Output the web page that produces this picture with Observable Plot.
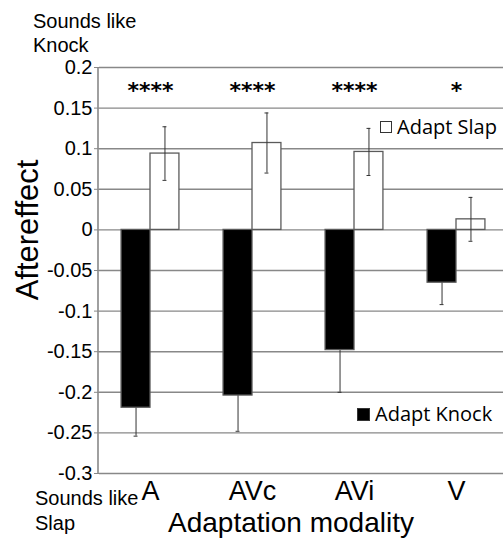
<!DOCTYPE html>
<html><head><meta charset="utf-8">
<script src="https://cdn.jsdelivr.net/npm/d3@7"></script>
<script src="https://cdn.jsdelivr.net/npm/@observablehq/plot@0.6"></script>
<style>
html,body{margin:0;padding:0;background:#fff;overflow:hidden}
#wrap{position:relative;width:503px;height:539px;overflow:hidden;font-family:"Liberation Sans",Arial,sans-serif;color:#000}
#wrap svg{position:absolute;left:0;top:0}
.lbl{position:absolute;white-space:nowrap;line-height:1}
.leg{position:absolute;white-space:nowrap;line-height:1;font-family:"Open Sans",sans-serif;font-size:20px;display:flex;align-items:center}
.sq{display:inline-block;width:10px;height:10px;margin-right:5px;border:1px solid #333;box-sizing:content-box}
</style></head><body><div id="wrap"></div>
<script>
// ---- data ----
const categories = ["A", "AVc", "AVi", "V"];
const series = ["Adapt Knock", "Adapt Slap"];
const knockValues = [-0.219, -0.204, -0.148, -0.065];
const knockErrors = [0.035, 0.044, 0.052, 0.027];
const slapValues = [0.094, 0.107, 0.096, 0.013];
const slapErrors = [0.033, 0.037, 0.029, 0.027];
const starLabels = ["****", "****", "****", "*"];
const yTicks = [-0.3, -0.25, -0.2, -0.15, -0.1, -0.05, 0, 0.05, 0.1, 0.15, 0.2];

const rows = categories.flatMap((c, i) => [
  {cat: c, series: series[0], value: knockValues[i], err: knockErrors[i]},
  {cat: c, series: series[1], value: slapValues[i], err: slapErrors[i]}
]);
const knockRows = rows.filter(d => d.series === series[0]);
const slapRows = rows.filter(d => d.series === series[1]);
const fmt = d => String(Math.round(d * 100) / 100);

function errorMarks(data) {
  const base = {fx: "cat", x: "series", stroke: "#333", strokeWidth: 1};
  return [
    Plot.ruleX(data, {...base, y1: d => d.value - d.err, y2: d => d.value + d.err}),
    Plot.tickY(data, {...base, y: d => d.value - d.err, insetLeft: 12.5, insetRight: 12.5}),
    Plot.tickY(data, {...base, y: d => d.value + d.err, insetLeft: 12.5, insetRight: 12.5})
  ];
}

const chart = Plot.plot({
  width: 507, height: 539,
  marginLeft: 98, marginRight: 0, marginTop: 67, marginBottom: 66,
  style: {fontFamily: "'Liberation Sans', Arial, sans-serif", background: "transparent", maxWidth: "none", color: "#000"},
  fx: {domain: categories, padding: 0, label: null, axis: null},
  x: {domain: series, paddingInner: 0, paddingOuter: 0.763, axis: null, round: false},
  y: {domain: [yTicks[0], yTicks[yTicks.length - 1]], label: null, axis: null},
  color: {domain: series, range: ["#000000", "#ffffff"]},
  marks: [
    Plot.gridY(yTicks, {stroke: "#888", strokeOpacity: 1, strokeWidth: 1.4}),
    ...errorMarks(knockRows),
    Plot.barY(rows, {fx: "cat", x: "series", y: "value", fill: "series", stroke: "#5a5a5a", strokeWidth: 1.3}),
    ...errorMarks(slapRows),
    Plot.axisY(yTicks, {anchor: "left", tickSize: 5, tickPadding: 2, fontSize: 20, tickFormat: fmt, stroke: "#888", label: null}),
    Plot.axisFx({anchor: "bottom", tickSize: 0, tickPadding: 7, fontSize: 27, label: null}),
    Plot.text(categories, {fx: d => d, text: (d, i) => starLabels[i], frameAnchor: "top", dy: 23, fontSize: 22, fontFamily: "DejaVu Sans", fontWeight: "bold", lineAnchor: "middle"})
  ]
});

const wrap = document.getElementById("wrap");
wrap.appendChild(chart);

// left axis line drawn from the library's own scales
const fxr = chart.scale("fx").range, yr = chart.scale("y").range;
d3.select(chart).append("line")
  .attr("x1", fxr[0]).attr("x2", fxr[0]).attr("y1", yr[0]).attr("y2", yr[1])
  .attr("stroke", "#888").attr("stroke-width", 1.6);

function addLabel(text, css, cls = "lbl") {
  const d = document.createElement("div");
  d.className = cls;
  d.innerHTML = text;
  Object.assign(d.style, css);
  wrap.appendChild(d);
  return d;
}
addLabel("Sounds like", {left: "33px", top: "11px", fontSize: "20px"});
addLabel("Knock", {left: "33px", top: "35px", fontSize: "20px"});
addLabel("Sounds like", {left: "35px", top: "488px", fontSize: "20px"});
addLabel("Slap", {left: "35px", top: "513px", fontSize: "20px"});
addLabel("Adaptation modality", {left: "291px", top: "509px", fontSize: "28px", transform: "translateX(-50%)"});
addLabel("Aftereffect", {left: "27px", top: "230px", fontSize: "31px", transform: "translate(-50%,-50%) rotate(-90deg)"});
addLabel('<span class="sq" style="background:#fff"></span>' + series[1], {left: "380px", top: "117px"}, "leg");
addLabel('<span class="sq" style="background:#000;width:11px;height:11px"></span>' + series[0], {left: "357px", top: "404px"}, "leg");
</script></body></html>
